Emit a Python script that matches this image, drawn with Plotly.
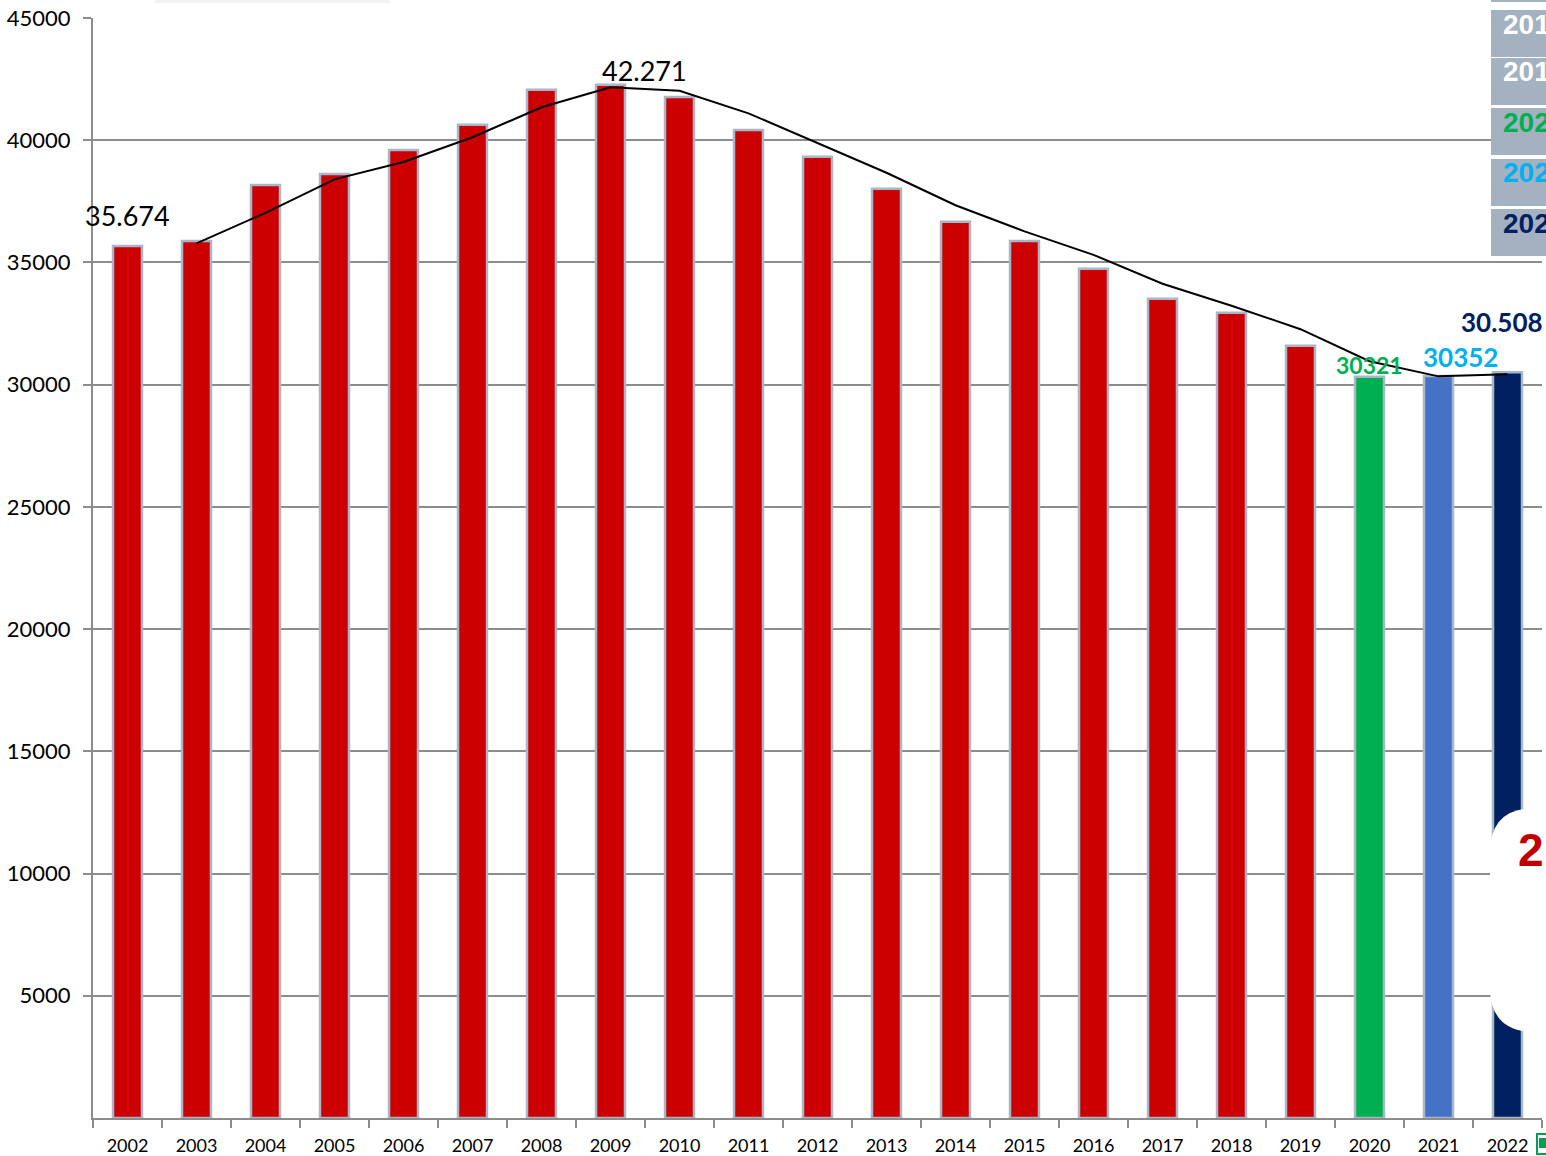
import plotly.graph_objects as go

years = [str(y) for y in range(2002, 2023)]
values = [35674, 35880, 38170, 38620, 39600, 40630, 42060, 42271, 41770, 40420,
          39320, 38010, 36660, 35880, 34740, 33510, 32940, 31590, 30321, 30352, 30508]
bar_colors = ["#CC0000"] * 18 + ["#00B050", "#4472C4", "#002060"]

trend_years = years[1:]
trend_values = [35780, 37030, 38400, 39110, 40120, 41350, 42170, 42020, 41100, 39870,
                38670, 37340, 36270, 35310, 34130, 33230, 32270, 30960, 30340, 30430]

y_ticks = [5000, 10000, 15000, 20000, 25000, 30000, 35000, 40000, 45000]
panel_labels = ["201", "201", "202", "202", "202"]
panel_colors = ["white", "white", "#00B050", "#00B0F0", "#002060"]

W, H = 1546, 1156
L, R, T, B = 93, 4, 18, 38


def px(x):
    return (x - L) / (W - L - R)


def py(y):
    return (H - B - y) / (H - B - T)


fig = go.Figure()
fig.add_trace(go.Bar(x=years, y=values, marker=dict(color=bar_colors, line=dict(color="#A7B6C8", width=2.5)),
                     showlegend=False))
fig.add_trace(go.Scatter(x=trend_years, y=trend_values, mode="lines", line=dict(color="black", width=2),
                         showlegend=False))

font = "Lato, 'Open Sans', sans-serif"
# data labels (x given as category index)
ann = [
    dict(x=0, y=values[0], text="35.674", yshift=30, font=dict(size=27, color="black")),
    dict(x=7, y=values[7], text="42.271", xshift=34, yshift=14, font=dict(size=27, color="black")),
    dict(x=18, y=values[18], text="<b>30321</b>", yshift=12, font=dict(size=23, color="#00B050")),
    dict(x=19, y=values[19], text="<b>30352</b>", xshift=22, yshift=19, font=dict(size=26, color="#00B0F0")),
    dict(x=20, y=values[20], text="<b>30.508</b>", xshift=-6, yshift=50, font=dict(size=26, color="#002060")),
]
for a in ann:
    a.update(showarrow=False, xref="x", yref="y", yanchor="middle")

shapes = []
# right-hand overlay panel
box_tops = [10, 58, 108, 159, 209]
shapes.append(dict(type="rect", xref="paper", yref="paper", x0=px(1491), x1=px(1560), y0=py(-5), y1=py(2),
                   fillcolor="#A3B1C1", line=dict(width=0), layer="above"))
for top, lab, col in zip(box_tops, panel_labels, panel_colors):
    shapes.append(dict(type="rect", xref="paper", yref="paper", x0=px(1491), x1=px(1560), y0=py(top + 47),
                       y1=py(top), fillcolor="#A3B1C1", line=dict(width=0), layer="above"))
    ann.append(dict(xref="paper", yref="paper", x=px(1501), y=py(top + 14), xanchor="left", yanchor="middle",
                    text="<b>%s</b>" % lab, showarrow=False, font=dict(size=28, color=col, family="Arial")))

# white rounded overlay at lower right
x0, x1, y0, y1, r = 1490, 1700, 808, 1032, 45
path = "M %f,%f L %f,%f Q %f,%f %f,%f L %f,%f Q %f,%f %f,%f L %f,%f Z" % (
    px(x1), py(y0), px(x0 + r), py(y0), px(x0), py(y0), px(x0), py(y0 + r),
    px(x0), py(y1 - r), px(x0), py(y1), px(x0 + r), py(y1), px(x1), py(y1))
shapes.append(dict(type="path", xref="paper", yref="paper", path=path, fillcolor="white",
                   line=dict(width=0), layer="above"))
ann.append(dict(xref="paper", yref="paper", x=px(1516), y=py(850), xanchor="left", yanchor="middle",
                text="<b>2</b>", showarrow=False, font=dict(size=46, color="#C00000", family="Arial")))

# small cut-off elements at the edges
shapes.append(dict(type="rect", xref="paper", yref="paper", x0=px(155), x1=px(390), y0=py(3), y1=py(-2),
                   fillcolor="#F2F2F2", line=dict(width=0), layer="above"))
shapes.append(dict(type="rect", xref="paper", yref="paper", x0=px(1537), x1=px(1550), y0=py(1154), y1=py(1134),
                   fillcolor="white", line=dict(color="#00A050", width=2), layer="above"))
shapes.append(dict(type="rect", xref="paper", yref="paper", x0=px(1539), x1=px(1550), y0=py(1148), y1=py(1138),
                   fillcolor="#00A050", line=dict(width=0), layer="above"))

fig.update_layout(
    width=W, height=H, margin=dict(l=L, r=R, t=T, b=B, autoexpand=False),
    plot_bgcolor="white", paper_bgcolor="white",
    bargap=0.58, font=dict(family=font, color="black"),
    annotations=ann, shapes=shapes,
)
fig.update_xaxes(type="category", showline=True, linecolor="#8C8C8C", linewidth=2, ticks="outside",
                 tickson="boundaries", ticklen=8, tickcolor="#8C8C8C", tickwidth=2, showgrid=False,
                 tickfont=dict(size=18, family=font), range=[-0.5, 20.5], ticklabelstandoff=10)
fig.update_yaxes(range=[0, 45000], tickvals=y_ticks, ticktext=[str(v) for v in y_ticks], showline=True,
                 linecolor="#8C8C8C", linewidth=2, ticks="outside", ticklen=8, tickcolor="#8C8C8C",
                 tickwidth=2, showgrid=True, gridcolor="#8C8C8C", gridwidth=2, zeroline=False,
                 tickfont=dict(size=22, family=font), ticklabelstandoff=8)

fig.write_html("out.html", config={"displayModeBar": False}, post_script="document.body.style.margin='0';")
